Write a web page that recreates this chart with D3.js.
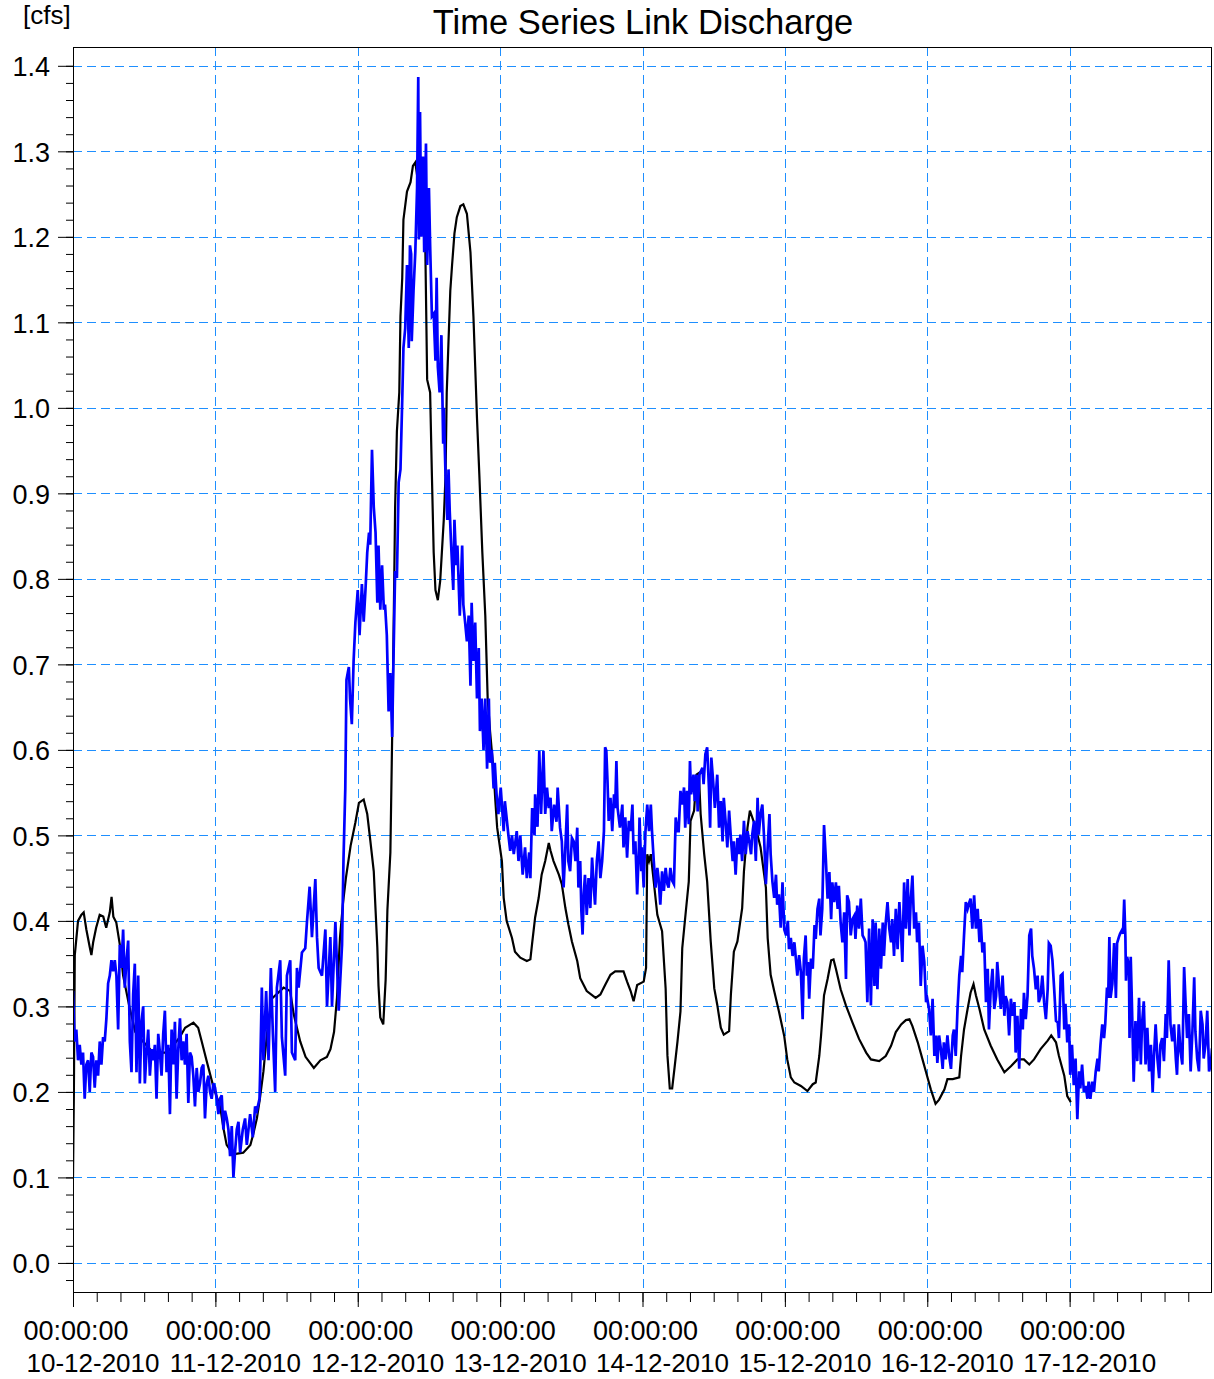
<!DOCTYPE html>
<html><head><meta charset="utf-8">
<script src="https://cdn.jsdelivr.net/npm/d3@7"></script>
<style>
body{margin:0;background:#fff;}
svg{display:block;font-family:"Liberation Sans",Arial,Helvetica,sans-serif;}
</style>
</head><body>
<svg id="chart" width="1214" height="1379"></svg>
<script>
// ---------------- data ----------------
const chartTitle = "Time Series Link Discharge";
const unitLabel = "[cfs]";
const startTime = "2010-12-10T00:00:00";
const dayCount = 8;
const timeLabel = "00:00:00";
const dayLabels = ["10-12-2010","11-12-2010","12-12-2010","13-12-2010","14-12-2010","15-12-2010","16-12-2010","17-12-2010"];
const yTickValues = [0.0,0.1,0.2,0.3,0.4,0.5,0.6,0.7,0.8,0.9,1.0,1.1,1.2,1.3,1.4];

// [hours since start, discharge cfs]
const blackSeries = [
[0,0.1],[0.15,0.2],[0.3,0.36],[0.85,0.4],[1.4,0.407],[1.8,0.41],[2.25,0.39],[2.8,0.37],[3.1,0.36],[3.4,0.375],[3.9,0.392],[4.5,0.407],[5.1,0.405],[5.6,0.392],[6.2,0.41],[6.5,0.428],[6.8,0.405],[7.3,0.398],[7.9,0.372],[8.45,0.336],[9.5,0.3],[10.5,0.27],[11.8,0.259],[13.5,0.246],[15.8,0.246],[17,0.255],[18,0.264],[18.9,0.275],[20.3,0.281],[21.1,0.275],[21.7,0.259],[22.5,0.237],[23.7,0.205],[24.8,0.183],[25.4,0.156],[25.9,0.138],[27,0.127],[28.7,0.129],[29.9,0.138],[30.4,0.151],[31,0.169],[31.5,0.192],[32.1,0.224],[32.7,0.268],[33.5,0.309],[35.5,0.322],[36.6,0.318],[37.2,0.291],[38.3,0.259],[39.2,0.241],[40.6,0.228],[41.7,0.237],[42.8,0.241],[43.4,0.25],[44,0.27],[44.5,0.31],[45,0.38],[45.5,0.42],[46,0.45],[46.8,0.488],[47.6,0.515],[48.2,0.538],[49,0.542],[49.6,0.525],[50.1,0.495],[50.7,0.458],[51,0.413],[51.3,0.369],[51.5,0.324],[51.8,0.287],[52.3,0.279],[52.7,0.331],[53,0.413],[53.5,0.48],[53.8,0.615],[54.1,0.772],[54.3,0.884],[54.6,0.973],[55,1.018],[55.2,1.107],[55.5,1.152],[55.7,1.22],[56.3,1.253],[56.9,1.264],[57.3,1.283],[57.7,1.287],[58.3,1.257],[59.1,1.227],[59.4,1.182],[59.7,1.033],[60.2,1.018],[60.5,0.921],[60.8,0.831],[61.1,0.787],[61.5,0.775],[61.9,0.798],[62.5,0.869],[62.8,0.921],[63,1.018],[63.3,1.078],[63.6,1.137],[63.9,1.167],[64.3,1.204],[64.7,1.223],[65.3,1.236],[65.8,1.238],[66.4,1.227],[67,1.182],[67.5,1.107],[67.8,1.048],[68.1,0.988],[68.5,0.921],[69,0.831],[69.5,0.757],[69.9,0.66],[70.3,0.622],[70.9,0.575],[71.2,0.54],[71.5,0.509],[72.3,0.47],[72.6,0.427],[73.1,0.4],[74,0.38],[74.5,0.364],[75.4,0.357],[76.5,0.353],[77.1,0.355],[77.4,0.374],[77.9,0.404],[78.5,0.427],[79,0.454],[79.6,0.47],[80.2,0.491],[80.5,0.482],[81,0.47],[81.9,0.454],[82.4,0.443],[83,0.415],[83.5,0.396],[84.1,0.376],[85,0.353],[85.5,0.333],[86.6,0.318],[88.1,0.31],[88.9,0.314],[89.7,0.325],[90.6,0.337],[91.4,0.341],[92.8,0.341],[93.4,0.329],[94,0.318],[94.5,0.306],[95.1,0.325],[96.2,0.329],[96.6,0.345],[96.8,0.478],[97.1,0.47],[97.4,0.478],[97.9,0.446],[98.5,0.407],[99.3,0.388],[99.9,0.321],[100.2,0.243],[100.6,0.204],[101,0.204],[101.4,0.228],[101.9,0.259],[102.4,0.294],[102.7,0.368],[103.3,0.411],[103.8,0.446],[104.1,0.517],[104.7,0.529],[105.1,0.571],[105.5,0.573],[105.8,0.525],[106.4,0.478],[106.9,0.446],[107.5,0.376],[108.1,0.321],[108.6,0.302],[109.2,0.275],[109.7,0.267],[110.6,0.271],[110.9,0.314],[111.4,0.364],[112,0.376],[112.8,0.415],[113.1,0.458],[113.7,0.509],[114.1,0.529],[114.5,0.521],[115.1,0.509],[115.9,0.486],[116.8,0.439],[117.1,0.38],[117.6,0.337],[118.2,0.318],[119,0.294],[119.9,0.265],[120.4,0.238],[121,0.217],[121.6,0.211],[122.7,0.207],[123.8,0.201],[124.7,0.209],[125.2,0.211],[125.8,0.242],[126.1,0.266],[126.6,0.313],[127.2,0.332],[127.8,0.354],[128.2,0.355],[128.6,0.344],[129.4,0.32],[130.3,0.301],[131.4,0.281],[132.5,0.262],[133.7,0.246],[134.5,0.238],[135.9,0.236],[137,0.242],[137.9,0.254],[138.7,0.27],[139.6,0.279],[140.4,0.284],[141,0.285],[141.5,0.277],[142.4,0.258],[143.2,0.238],[143.8,0.223],[144.6,0.203],[145.4,0.186],[146,0.191],[146.9,0.203],[147.4,0.215],[148.3,0.215],[149.4,0.217],[149.7,0.242],[150.2,0.273],[150.8,0.297],[151.3,0.316],[151.8,0.326],[152.2,0.313],[152.8,0.297],[153.6,0.273],[154.7,0.254],[155.8,0.238],[157,0.223],[158.1,0.23],[159.2,0.238],[160.3,0.238],[161.2,0.232],[162,0.238],[163.1,0.25],[164.3,0.26],[164.9,0.266],[165.7,0.258],[166.2,0.242],[167.1,0.219],[167.6,0.195],[168.2,0.188]
];

const blueSeries = [
[0,0.318],[0.28,0.259],[0.56,0.273],[0.85,0.237],[1.13,0.255],[1.41,0.232],[1.69,0.246],[1.97,0.192],[2.25,0.232],[2.54,0.237],[2.82,0.2],[3.1,0.246],[3.38,0.241],[3.66,0.205],[3.94,0.237],[4.23,0.219],[4.51,0.259],[4.79,0.232],[5.07,0.264],[5.35,0.259],[5.63,0.286],[5.92,0.327],[6.2,0.336],[6.48,0.354],[6.76,0.341],[7.04,0.354],[7.32,0.336],[7.61,0.273],[7.89,0.372],[8.17,0.345],[8.45,0.39],[8.73,0.322],[9.01,0.354],[9.3,0.377],[9.58,0.259],[9.86,0.223],[10.14,0.314],[10.42,0.35],[10.7,0.223],[10.99,0.336],[11.27,0.21],[11.55,0.282],[11.83,0.3],[12.11,0.21],[12.39,0.246],[12.68,0.273],[12.96,0.219],[13.24,0.25],[13.52,0.237],[13.8,0.255],[14.08,0.192],[14.37,0.268],[14.65,0.246],[14.93,0.219],[15.21,0.268],[15.49,0.295],[15.77,0.223],[16.06,0.255],[16.34,0.174],[16.62,0.273],[16.9,0.232],[17.18,0.282],[17.46,0.192],[17.75,0.25],[18.03,0.286],[18.31,0.237],[18.59,0.259],[18.87,0.232],[19.15,0.268],[19.44,0.187],[19.72,0.246],[20,0.241],[20.28,0.219],[20.56,0.183],[20.85,0.228],[21.13,0.2],[21.41,0.21],[21.69,0.228],[21.97,0.232],[22.25,0.169],[22.54,0.21],[22.82,0.219],[23.1,0.2],[23.38,0.192],[23.66,0.21],[23.94,0.205],[24.23,0.192],[24.51,0.174],[24.79,0.192],[25.07,0.196],[25.35,0.156],[25.63,0.178],[25.92,0.169],[26.2,0.156],[26.48,0.125],[26.76,0.16],[27.04,0.1],[27.32,0.13],[27.61,0.156],[27.89,0.165],[28.17,0.129],[28.62,0.156],[29.01,0.169],[29.3,0.138],[29.58,0.156],[29.86,0.174],[30.31,0.147],[30.7,0.183],[30.99,0.178],[31.44,0.192],[31.55,0.223],[31.83,0.322],[32.11,0.237],[32.56,0.318],[32.96,0.237],[33.35,0.345],[33.69,0.268],[34.08,0.2],[34.37,0.322],[34.93,0.354],[35.21,0.264],[35.77,0.219],[36.06,0.336],[36.62,0.354],[36.9,0.246],[37.46,0.237],[37.75,0.345],[38.03,0.322],[38.59,0.363],[39.15,0.368],[39.44,0.399],[39.89,0.44],[40.28,0.381],[40.85,0.449],[41.13,0.381],[41.41,0.345],[41.97,0.336],[42.54,0.39],[42.82,0.3],[43.38,0.381],[43.66,0.3],[44.23,0.399],[44.79,0.295],[45.35,0.372],
[45.6,0.473],[45.9,0.555],[46.1,0.682],[46.5,0.697],[46.7,0.66],[47,0.63],[47.3,0.704],[47.6,0.749],[48,0.787],[48.3,0.734],[48.7,0.794],[49,0.75],[49.3,0.787],[49.6,0.831],[49.9,0.854],[50.1,0.84],[50.4,0.951],[50.7,0.884],[51,0.854],[51.3,0.772],[51.5,0.839],[51.8,0.764],[52.1,0.816],[52.4,0.764],[52.6,0.77],[52.9,0.734],[53.2,0.645],[53.5,0.69],[53.8,0.615],[54,0.697],[54.3,0.809],[54.6,0.801],[54.9,0.913],[55.2,0.928],[55.5,1.01],[55.7,1.07],[56,1.093],[56.3,1.167],[56.6,1.07],[56.8,1.19],[57,1.18],[57.1,1.078],[57.4,1.137],[57.7,1.182],[58,1.257],[58.2,1.387],[58.3,1.197],[58.5,1.346],[58.7,1.2],[59,1.294],[59.2,1.182],[59.5,1.309],[59.7,1.167],[60,1.257],[60.2,1.19],[60.5,1.107],[60.8,1.11],[61.1,1.055],[61.3,1.152],[61.5,1.048],[61.8,1.018],[62.1,1.085],[62.4,0.958],[62.5,1],[62.8,0.921],[63.1,0.869],[63.3,0.928],[63.5,0.88],[63.7,0.846],[64.1,0.787],[64.3,0.869],[64.6,0.816],[64.8,0.839],[65.2,0.757],[65.6,0.839],[65.8,0.77],[66.1,0.749],[66.4,0.727],[66.7,0.757],[67,0.675],[67.2,0.772],[67.5,0.704],[67.8,0.749],[68.1,0.66],[68.4,0.719],[68.6,0.622],[68.9,0.66],[69.2,0.6],[69.5,0.66],[69.8,0.578],[70.1,0.66],[70.3,0.585],[70.6,0.6],[70.9,0.555],[71.1,0.585],[71.4,0.548],[71.7,0.525],[72.1,0.556],[72.6,0.505],[72.8,0.54],[73.4,0.5],[73.7,0.482],[74,0.5],[74.3,0.478],[74.8,0.505],[75.1,0.47],[75.4,0.5],[75.8,0.454],[76.2,0.486],[76.5,0.45],[76.9,0.48],[77.1,0.45],[77.4,0.532],[77.8,0.5],[77.9,0.548],[78.3,0.51],[78.6,0.599],[78.9,0.525],[79.3,0.599],[79.6,0.525],[79.9,0.556],[80.2,0.532],[80.5,0.544],[80.7,0.505],[81.1,0.536],[81.5,0.516],[81.7,0.556],[82.1,0.509],[82.4,0.493],[82.7,0.439],[83,0.486],[83.3,0.536],[83.5,0.47],[83.8,0.458],[84.1,0.497],[84.4,0.493],[84.7,0.47],[85,0.509],[85.2,0.439],[85.5,0.47],[85.7,0.411],[85.9,0.384],[86.1,0.431],[86.3,0.454],[86.6,0.407],[86.9,0.45],[87.2,0.415],[87.5,0.474],[87.8,0.439],[88,0.419],[88.3,0.47],[88.6,0.493],[88.9,0.45],[89.2,0.47],[89.5,0.505],[89.7,0.603],[89.9,0.599],[90.1,0.563],[90.3,0.517],[90.6,0.544],[90.9,0.505],[91.2,0.548],[91.4,0.532],[91.6,0.587],[91.8,0.532],[92.2,0.509],[92.6,0.536],[92.8,0.486],[93.1,0.521],[93.4,0.474],[93.7,0.517],[94,0.505],[94.3,0.536],[94.5,0.478],[94.8,0.493],[95.1,0.431],[95.4,0.486],[95.5,0.521],[95.8,0.458],[95.9,0.486],[96.2,0.439],[96.5,0.505],[96.8,0.536],[97.1,0.505],[97.4,0.536],[97.6,0.505],[97.9,0.47],[98.2,0.439],[98.5,0.462],[98.7,0.45],[99,0.419],[99.3,0.458],[99.6,0.435],[99.9,0.462],[100.2,0.443],[100.4,0.439],[100.7,0.462],[101,0.447],[101.3,0.443],[101.6,0.521],[101.9,0.505],[102.1,0.505],[102.4,0.552],[102.7,0.536],[103,0.556],[103.2,0.509],[103.5,0.552],[103.8,0.513],[104,0.587],[104.2,0.548],[104.6,0.571],[104.8,0.54],[105.1,0.571],[105.3,0.528],[105.6,0.571],[106.1,0.579],[106.3,0.56],[106.6,0.595],[106.9,0.603],[107.2,0.556],[107.4,0.509],[107.6,0.591],[107.9,0.564],[108.2,0.532],[108.6,0.571],[108.9,0.509],[109.2,0.54],[109.5,0.493],[109.7,0.544],[110,0.517],[110.3,0.486],[110.6,0.529],[110.9,0.497],[111.2,0.47],[111.4,0.493],[111.7,0.454],[112,0.497],[112.3,0.478],[112.5,0.501],[112.8,0.47],[113.1,0.517],[113.4,0.478],[113.7,0.505],[114,0.493],[114.3,0.478],[114.5,0.501],[114.8,0.517],[115.1,0.47],[115.4,0.544],[115.6,0.501],[115.9,0.525],[116.2,0.536],[116.5,0.497],[116.8,0.443],[117.1,0.486],[117.4,0.525],[117.6,0.478],[117.9,0.446],[118.2,0.427],[118.5,0.454],[118.7,0.419],[119,0.431],[119.3,0.392],[119.6,0.445],[119.9,0.39],[120.2,0.383],[120.5,0.4],[120.7,0.367],[121,0.38],[121.3,0.359],[121.6,0.375],[121.9,0.352],[122.1,0.336],[122.4,0.36],[122.7,0.34],[123,0.285],[123.2,0.356],[123.5,0.383],[123.7,0.336],[123.9,0.352],[124.1,0.309],[124.4,0.356],[124.7,0.344],[125,0.395],[125.2,0.379],[125.5,0.414],[125.8,0.426],[126,0.383],[126.3,0.414],[126.6,0.512],[126.9,0.473],[127.2,0.426],[127.5,0.457],[127.8,0.402],[128,0.445],[128.3,0.422],[128.6,0.445],[128.9,0.414],[129.1,0.441],[129.4,0.398],[129.7,0.375],[130,0.41],[130.3,0.332],[130.5,0.43],[130.8,0.422],[131.1,0.383],[131.4,0.402],[131.7,0.406],[131.9,0.379],[132.2,0.418],[132.5,0.391],[132.8,0.426],[133.1,0.383],[133.4,0.379],[133.6,0.375],[133.9,0.305],[134.2,0.391],[134.5,0.301],[134.8,0.402],[135.1,0.324],[135.3,0.398],[135.6,0.32],[135.9,0.391],[136.2,0.344],[136.5,0.398],[136.7,0.359],[137,0.398],[137.3,0.422],[137.6,0.391],[137.9,0.375],[138.1,0.402],[138.4,0.359],[138.7,0.414],[139,0.367],[139.3,0.422],[139.6,0.383],[139.8,0.352],[140.1,0.445],[140.4,0.391],[140.7,0.449],[141,0.383],[141.2,0.422],[141.5,0.453],[141.8,0.391],[142.1,0.41],[142.3,0.375],[142.6,0.398],[142.9,0.324],[143.2,0.371],[143.5,0.352],[143.8,0.305],[144,0.309],[144.3,0.297],[144.6,0.266],[144.9,0.309],[145.2,0.242],[145.5,0.266],[145.7,0.234],[146,0.266],[146.3,0.25],[146.6,0.227],[146.8,0.258],[147.1,0.238],[147.4,0.266],[147.7,0.242],[148,0.227],[148.3,0.266],[148.5,0.273],[148.8,0.242],[149.1,0.297],[149.4,0.336],[149.7,0.359],[149.9,0.34],[150.2,0.383],[150.5,0.422],[150.8,0.414],[151.1,0.422],[151.3,0.426],[151.6,0.391],[151.9,0.43],[152.2,0.391],[152.5,0.414],[152.8,0.375],[153,0.402],[153.3,0.363],[153.6,0.375],[153.9,0.305],[154.2,0.344],[154.4,0.273],[154.7,0.32],[155,0.344],[155.3,0.297],[155.6,0.312],[155.8,0.352],[156.1,0.324],[156.4,0.297],[156.7,0.336],[157,0.289],[157.2,0.312],[157.5,0.305],[157.8,0.266],[158.1,0.309],[158.4,0.289],[158.7,0.305],[158.9,0.246],[159.2,0.289],[159.5,0.227],[159.8,0.297],[160.1,0.273],[160.3,0.316],[160.6,0.285],[160.9,0.312],[161.2,0.383],[161.5,0.391],[161.7,0.359],[162,0.344],[162.3,0.32],[162.6,0.336],[162.8,0.305],[163.1,0.312],[163.4,0.336],[163.7,0.305],[164,0.285],[164.3,0.32],[164.5,0.374],[164.8,0.371],[165.1,0.354],[165.4,0.32],[165.7,0.283],[166,0.281],[166.2,0.263],[166.5,0.336],[166.8,0.338],[167.1,0.273],[167.3,0.303],[167.6,0.258],[167.9,0.279],[168.1,0.22],[168.4,0.255],[168.7,0.208],[169,0.239],[169.3,0.168],[169.6,0.224],[169.8,0.204],[170.1,0.232],[170.4,0.2],[170.7,0.207],[171,0.192],[171.2,0.212],[171.5,0.192],[171.8,0.212],[172.1,0.2],[172.4,0.224],[172.7,0.239],[172.9,0.224],[173.2,0.255],[173.5,0.279],[173.8,0.263],[174,0.279],[174.3,0.322],[174.5,0.31],[174.7,0.381],[174.9,0.31],[175.2,0.326],[175.5,0.374],[175.8,0.31],[176,0.374],[176.3,0.381],[176.5,0.385],[176.8,0.389],[177,0.385],[177.2,0.425],[177.4,0.381],[177.5,0.33],[177.7,0.358],[178,0.346],[178.1,0.263],[178.3,0.358],[178.5,0.303],[178.8,0.212],[179.1,0.283],[179.4,0.236],[179.7,0.31],[180,0.232],[180.2,0.279],[180.5,0.306],[180.8,0.232],[181.1,0.275],[181.4,0.224],[181.7,0.255],[182,0.2],[182.2,0.239],[182.5,0.279],[182.8,0.239],[183.1,0.216],[183.3,0.255],[183.6,0.263],[183.9,0.236],[184.2,0.291],[184.4,0.263],[184.7,0.354],[185,0.279],[185.3,0.259],[185.6,0.279],[185.9,0.239],[186.1,0.22],[186.4,0.279],[186.7,0.247],[187,0.232],[187.3,0.346],[187.6,0.295],[187.8,0.263],[188.1,0.291],[188.4,0.224],[188.7,0.271],[189,0.334],[189.2,0.271],[189.5,0.239],[189.8,0.224],[190.1,0.295],[190.4,0.279],[190.6,0.239],[190.9,0.255],[191.2,0.295],[191.5,0.224],[191.8,0.232],[192,0.251]
];

// ---------------- layout ----------------
const plot = {left: 73, right: 1212, top: 47, bottom: 1292};
const gridColor = "#1e8fff";
const fontSize = 27;

const svg = d3.select("#chart");
const t0 = new Date(startTime);
const hourToDate = h => new Date(t0.getTime() + h * 3600000);
const tEnd = d3.timeDay.offset(t0, dayCount);

const x = d3.scaleTime().domain([t0, tEnd]).range([plot.left, plot.right]);
const y = d3.scaleLinear().domain([-0.034, 1.422]).range([plot.bottom, plot.top]);

const dayTicks = d3.timeDay.range(t0, tEnd);
const minorX = d3.timeHour.every(4).range(t0, tEnd);
const minorY = d3.range(-1, 71).map(i => i * 0.02);

// gridlines
const grid = svg.append("g").attr("stroke", gridColor).attr("stroke-width", 1)
  .attr("stroke-dasharray", "9,5").attr("fill", "none");
grid.selectAll("line.h").data(yTickValues).join("line").attr("class", "h")
  .attr("x1", plot.left).attr("x2", plot.right)
  .attr("y1", d => Math.round(y(d)) + 0.5).attr("y2", d => Math.round(y(d)) + 0.5);
grid.selectAll("line.v").data(dayTicks.slice(1)).join("line").attr("class", "v")
  .attr("y1", plot.top).attr("y2", plot.bottom)
  .attr("x1", d => Math.round(x(d)) + 0.5).attr("x2", d => Math.round(x(d)) + 0.5);

// clip
svg.append("clipPath").attr("id", "clip").append("rect")
  .attr("x", plot.left).attr("y", plot.top)
  .attr("width", plot.right - plot.left).attr("height", plot.bottom - plot.top);

const line = d3.line().x(d => x(hourToDate(d[0]))).y(d => y(d[1]));
const lines = svg.append("g").attr("clip-path", "url(#clip)");
lines.append("path").datum(blackSeries).attr("d", line)
  .attr("fill", "none").attr("stroke", "#000").attr("stroke-width", 2.2).attr("stroke-linejoin", "miter");
lines.append("path").datum(blueSeries).attr("d", line)
  .attr("fill", "none").attr("stroke", "#0000ff").attr("stroke-width", 2.7).attr("stroke-linejoin", "miter");

// frame
svg.append("rect").attr("x", plot.left + 0.5).attr("y", plot.top + 0.5)
  .attr("width", plot.right - plot.left - 1).attr("height", plot.bottom - plot.top)
  .attr("fill", "none").attr("stroke", "#000").attr("stroke-width", 1);

// y axis: minor & major
const yMinorAxis = d3.axisLeft(y).tickValues(minorY).tickSize(7).tickFormat("");
const yAxis = d3.axisLeft(y).tickValues(yTickValues).tickSize(15).tickPadding(8)
  .tickFormat(d3.format(".1f"));
const gyMinor = svg.append("g").attr("transform", `translate(${plot.left},0)`).call(yMinorAxis);
const gy = svg.append("g").attr("transform", `translate(${plot.left},0)`).call(yAxis);
[gyMinor, gy].forEach(g => { g.select(".domain").remove(); g.selectAll("line").attr("stroke", "#000"); });
gy.selectAll("text").attr("font-size", fontSize).attr("fill", "#000")
  .attr("font-family", '"Liberation Sans",Arial,sans-serif').attr("dy", "0.36em");

// x axis: minor & major
const xMinorAxis = d3.axisBottom(x).tickValues(minorX).tickSize(10).tickFormat("");
const xAxis = d3.axisBottom(x).tickValues(dayTicks).tickSize(15).tickFormat("");
const gxMinor = svg.append("g").attr("transform", `translate(0,${plot.bottom})`).call(xMinorAxis);
const gx = svg.append("g").attr("transform", `translate(0,${plot.bottom})`).call(xAxis);
[gxMinor, gx].forEach(g => { g.select(".domain").remove(); g.selectAll("line").attr("stroke", "#000"); });

const xl = svg.append("g").attr("text-anchor", "middle").attr("fill", "#000");
xl.selectAll("text.time").data(dayTicks).join("text").attr("class", "time")
  .attr("font-size", fontSize).attr("x", d => x(d) + 3).attr("y", 1340).text(timeLabel);
xl.selectAll("text.day").data(dayTicks).join("text").attr("class", "day")
  .attr("font-size", 26).attr("x", d => x(d) + 20).attr("y", 1372).text((d, i) => dayLabels[i]);

// title & unit
svg.append("text").attr("x", 643).attr("y", 34).attr("text-anchor", "middle")
  .attr("font-size", 34.5).attr("fill", "#000").text(chartTitle);
svg.append("text").attr("x", 23).attr("y", 24).attr("font-size", 26).attr("fill", "#000").text(unitLabel);
</script>
</body></html>
